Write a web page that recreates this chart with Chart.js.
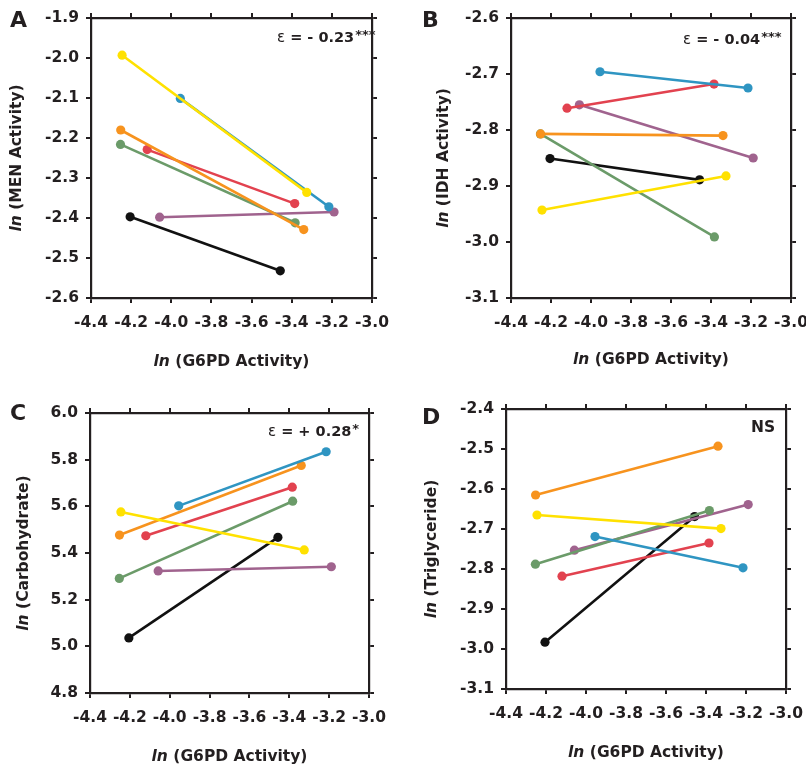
<!DOCTYPE html>
<html lang="en">
<head>
<meta charset="UTF-8" />
<title>G6PD activity panels</title>
<script src="https://cdn.jsdelivr.net/npm/chart.js@4"></script>
<style>
  html, body { margin: 0; padding: 0; background: #fff; }
  .page { position: relative; width: 806px; height: 767px; overflow: hidden; }
  .panel { position: absolute; }
</style>
</head>
<body>
<div class="page">
  <div class="panel" style="left:0;top:0;width:400px;height:380px"><canvas id="panelA"></canvas></div>
  <div class="panel" style="left:400px;top:0;width:406px;height:380px"><canvas id="panelB"></canvas></div>
  <div class="panel" style="left:0;top:380px;width:400px;height:387px"><canvas id="panelC"></canvas></div>
  <div class="panel" style="left:400px;top:380px;width:406px;height:387px"><canvas id="panelD"></canvas></div>
</div>

<script>
  // one line per strain, low and high G6PD end points (ln scale)
  const lineNames = ["yellow", "blue", "orange", "green", "red", "purple", "black"];
  const g6pdLow = [-4.245, -3.955, -4.252, -4.253, -4.12, -4.058, -4.205];
  const g6pdHigh = [-3.325, -3.215, -3.34, -3.383, -3.385, -3.189, -3.457];

  const menLow = [-1.993, -2.101, -2.18, -2.216, -2.229, -2.398, -2.397];
  const menHigh = [-2.336, -2.372, -2.429, -2.412, -2.364, -2.385, -2.532];

  const idhLow = [-2.943, -2.696, -2.807, -2.807, -2.761, -2.755, -2.851];
  const idhHigh = [-2.882, -2.725, -2.81, -2.991, -2.718, -2.85, -2.889];

  const carbLow = [5.576, 5.602, 5.477, 5.291, 5.474, 5.323, 5.036];
  const carbHigh = [5.413, 5.834, 5.775, 5.622, 5.682, 5.341, 5.467];

  const trigLow = [-2.665, -2.719, -2.615, -2.788, -2.818, -2.753, -2.983];
  const trigHigh = [-2.699, -2.797, -2.493, -2.654, -2.735, -2.639, -2.669];

  const xTicks = [-4.4, -4.2, -4.0, -3.8, -3.6, -3.4, -3.2, -3.0];
  const menTicks = [-2.6, -2.5, -2.4, -2.3, -2.2, -2.1, -2.0, -1.9];
  const idhTicks = [-3.1, -3.0, -2.9, -2.8, -2.7, -2.6];
  const carbTicks = [4.8, 5.0, 5.2, 5.4, 5.6, 5.8, 6.0];
  const trigTicks = [-3.1, -3.0, -2.9, -2.8, -2.7, -2.6, -2.5, -2.4];

  const xTitle = "ln (G6PD Activity)";
  const yTitles = ["ln (MEN Activity)", "ln (IDH Activity)", "ln (Carbohydrate)", "ln (Triglyceride)"];
  const noteTexts = ["ε = - 0.23", "ε = - 0.04", "ε = + 0.28", "NS"];
  const noteStars = ["***", "***", "*", ""];

  const INK = "#231f20";
  const FONT = "'DejaVu Sans', sans-serif";
  const lineColors = {
    yellow: "#ffe100",
    blue: "#2f95c2",
    orange: "#f7931e",
    green: "#6b9b69",
    red: "#e2424f",
    purple: "#a0638e",
    black: "#111111",
  };

  // drawing the panel letter, mixed-style axis titles and the epsilon note
  function drawTitle(ctx, text, cx, cy) {
    const italic = "italic bold 15.5px " + FONT;
    const bold = "bold 15.5px " + FONT;
    const head = text.slice(0, 2);
    const rest = text.slice(2);
    ctx.font = italic;
    const w1 = ctx.measureText(head).width;
    ctx.font = bold;
    const w2 = ctx.measureText(rest).width;
    const x = cx - (w1 + w2) / 2;
    ctx.textAlign = "left";
    ctx.textBaseline = "middle";
    ctx.font = italic;
    ctx.fillText(head, x, cy);
    ctx.font = bold;
    ctx.fillText(rest, x + w1, cy);
  }

  const panelText = {
    id: "panelText",
    afterDraw(chart, args, o) {
      const { ctx, chartArea: a } = chart;
      ctx.save();
      ctx.fillStyle = INK;

      ctx.font = "bold 22px " + FONT;
      ctx.textAlign = "left";
      ctx.textBaseline = "middle";
      ctx.fillText(o.letter, o.letterX, o.letterY);

      drawTitle(ctx, xTitle, (a.left + a.right) / 2, a.bottom + o.xTitleGap);

      // note, e.g. "ε = - 0.23***"
      let x = o.noteX;
      ctx.textBaseline = "middle";
      if (o.note.startsWith("ε")) {
        ctx.font = "15px " + FONT;
        ctx.fillText("ε", x, o.noteY);
        x += ctx.measureText("ε").width;
        ctx.font = "bold 14.5px " + FONT;
        const rest = o.note.slice(1);
        ctx.fillText(rest, x, o.noteY);
        x += ctx.measureText(rest).width;
      } else {
        ctx.font = "bold 15.5px " + FONT;
        ctx.fillText(o.note, x, o.noteY);
      }
      if (o.stars) {
        ctx.font = "bold 13px " + FONT;
        ctx.fillText(o.stars, x + 1, o.noteY - 2);
      }

      ctx.translate(a.left - o.yTitleGap, (a.top + a.bottom) / 2);
      ctx.rotate(-Math.PI / 2);
      drawTitle(ctx, o.yTitle, 0, 0);
      ctx.restore();
    },
  };

  function buildScales(yTicks, box) {
    const grid = { drawOnChartArea: false, color: INK, lineWidth: 2, tickLength: 5, tickWidth: 2 };
    const border = { display: true, color: INK, width: 2.2 };
    const tickFont = { family: FONT, size: 15.5, weight: "bold" };
    const useTicks = (vals) => (s) => {
      s.ticks = vals.map((v) => ({ value: v }));
    };
    const fmt = (v) => Number(v).toFixed(1);
    const xRange = { type: "linear", min: xTicks[0], max: xTicks[xTicks.length - 1], afterBuildTicks: useTicks(xTicks) };
    const yRange = { type: "linear", min: yTicks[0], max: yTicks[yTicks.length - 1], afterBuildTicks: useTicks(yTicks) };
    return {
      x: {
        ...xRange,
        position: "bottom",
        grid,
        border,
        ticks: { font: tickFont, color: INK, padding: 11, autoSkip: false, maxRotation: 0, callback: fmt },
        afterFit: (s) => { s.height = box.bottom; s.paddingLeft = 0; s.paddingRight = 0; },
      },
      x2: {
        ...xRange,
        position: "top",
        grid,
        border,
        ticks: { display: false },
        afterFit: (s) => { s.height = box.top; s.paddingLeft = 0; s.paddingRight = 0; },
      },
      y: {
        ...yRange,
        position: "left",
        grid,
        border,
        ticks: { font: tickFont, color: INK, padding: 7, autoSkip: false, callback: fmt },
        afterFit: (s) => { s.width = box.left; s.paddingTop = 0; s.paddingBottom = 0; },
      },
      y2: {
        ...yRange,
        position: "right",
        grid,
        border,
        ticks: { display: false },
        afterFit: (s) => { s.width = box.right; s.paddingTop = 0; s.paddingBottom = 0; },
      },
    };
  }

  function createPanel(id, lows, highs, yTicks, idx, box, text) {
    const datasets = lineNames.map((name, i) => ({
      label: name,
      data: [
        { x: g6pdLow[i], y: lows[i] },
        { x: g6pdHigh[i], y: highs[i] },
      ],
      showLine: true,
      borderColor: lineColors[name],
      backgroundColor: lineColors[name],
      pointBackgroundColor: lineColors[name],
      pointBorderWidth: 0,
      pointRadius: 4.6,
      borderWidth: 2.6,
      xAxisID: "x",
      yAxisID: "y",
    }));

    new Chart(document.getElementById(id), {
      type: "scatter",
      data: { datasets },
      options: {
        responsive: true,
        maintainAspectRatio: false,
        animation: false,
        layout: { padding: 0 },
        scales: buildScales(yTicks, box),
        plugins: {
          legend: { display: false },
          tooltip: { enabled: false },
          panelText: {
            ...text,
            yTitle: yTitles[idx],
            note: noteTexts[idx],
            stars: noteStars[idx],
          },
        },
      },
      plugins: [panelText],
    });
  }

  document.addEventListener("DOMContentLoaded", () => {
    createPanel("panelA", menLow, menHigh, menTicks, 0,
      { left: 91, right: 28, top: 18, bottom: 82 },
      { letter: "A", letterX: 10, letterY: 21, xTitleGap: 64, yTitleGap: 74, noteX: 277, noteY: 38 });
    createPanel("panelB", idhLow, idhHigh, idhTicks, 1,
      { left: 111, right: 15, top: 18, bottom: 82 },
      { letter: "B", letterX: 22, letterY: 21, xTitleGap: 62, yTitleGap: 67, noteX: 283, noteY: 40 });
    createPanel("panelC", carbLow, carbHigh, carbTicks, 2,
      { left: 90, right: 31, top: 33, bottom: 74 },
      { letter: "C", letterX: 10, letterY: 34, xTitleGap: 64, yTitleGap: 66, noteX: 268, noteY: 52 });
    createPanel("panelD", trigLow, trigHigh, trigTicks, 3,
      { left: 106, right: 20, top: 29, bottom: 78 },
      { letter: "D", letterX: 22, letterY: 38, xTitleGap: 64, yTitleGap: 74, noteX: 351, noteY: 48 });
  });
</script>
</body>
</html>
